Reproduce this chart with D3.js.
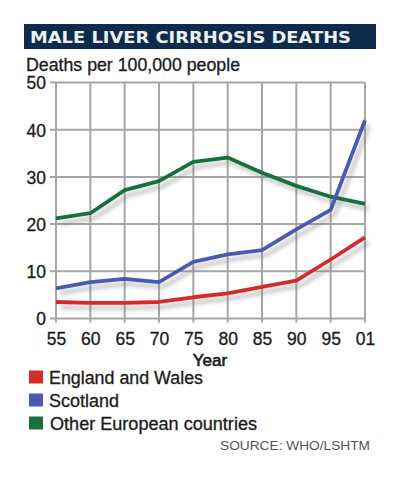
<!DOCTYPE html>
<html><head><meta charset="utf-8">
<script src="https://cdn.jsdelivr.net/npm/d3@7/dist/d3.min.js"></script>
<style>
html,body{margin:0;padding:0;background:#fff;}
svg{display:block;}
</style></head>
<body>
<script>
const years = ["55","60","65","70","75","80","85","90","95","01"];
const yTicks = [0,10,20,30,40,50];
const england = [3.5,3.3,3.3,3.5,4.5,5.3,6.7,8.0,12.5,17.2];
const scotland = [6.4,7.7,8.4,7.7,12.0,13.6,14.5,18.9,23.0,42.0];
const otherEurope = [21.2,22.3,27.2,29.1,33.2,34.1,30.9,28.1,25.8,24.3];
const seriesNames = ["England and Wales","Scotland","Other European countries"];
const seriesColors = ["#d42b2b","#4a5ab4","#17703d"];

const W = 400, H = 477;
const FONT = "Liberation Sans, Arial, sans-serif";
const svg = d3.select("body").append("svg").attr("width", W).attr("height", H);

const defs = svg.append("defs");
const f = defs.append("filter").attr("id","sh").attr("x","-10%").attr("y","-10%").attr("width","130%").attr("height","140%");
f.append("feDropShadow").attr("dx",4).attr("dy",5).attr("stdDeviation",2.2)
 .attr("flood-color","#777").attr("flood-opacity",0.45);

// Title bar
svg.append("rect").attr("x",24).attr("y",24).attr("width",352).attr("height",25).attr("fill","#0e2b4b");
svg.append("text").attr("x",30).attr("y",42.5).text("MALE LIVER CIRRHOSIS DEATHS")
  .attr("font-family","DejaVu Sans").attr("font-weight","bold").attr("font-size",16.6)
  .attr("fill","#e9f1f1").attr("textLength",321).attr("lengthAdjust","spacingAndGlyphs");

function txt(sel){ return sel.attr("font-family",FONT).attr("fill","#1a1a1a").attr("stroke","#1a1a1a").attr("stroke-width",0.3); }

txt(svg.append("text").attr("x",26).attr("y",71).text("Deaths per 100,000 people")
  .attr("font-size",17.5).attr("textLength",214).attr("lengthAdjust","spacingAndGlyphs"));

const x = d3.scalePoint().domain(years).range([56,365]);
const y = d3.scaleLinear().domain([0,50]).range([318.5,82.5]);

const grid = svg.append("g").attr("stroke","#a6a6a6").attr("stroke-width",2);
grid.selectAll("line.v").data(years).join("line").attr("class","v")
  .attr("x1",d=>x(d)).attr("x2",d=>x(d)).attr("y1",y(50)).attr("y2",y(0)+4);
grid.selectAll("line.h").data(yTicks).join("line").attr("class","h")
  .attr("x1",50).attr("x2",x("01")).attr("y1",d=>y(d)).attr("y2",d=>y(d));

// Axis labels
const yAxis = svg.append("g").attr("transform","translate(50,0)")
  .call(d3.axisLeft(y).tickValues(yTicks).tickSize(0).tickPadding(4));
yAxis.select(".domain").remove();
txt(yAxis.selectAll("text")).attr("font-size",17.5).attr("dy","0.36em");

const xAxis = svg.append("g").attr("transform","translate(0,333)")
  .call(d3.axisBottom(x).tickSize(0).tickPadding(0));
xAxis.select(".domain").remove();
txt(xAxis.selectAll("text")).attr("font-size",17.5).attr("dy","0.71em");

txt(svg.append("text").attr("x",210).attr("y",366).attr("text-anchor","middle").text("Year")
  .attr("font-size",17)).attr("stroke-width",0.6);

const line = d3.line().x((d,i)=>x(years[i])).y(d=>y(d));
const data = [england, scotland, otherEurope];
const order = [2,1,0];
const lg = svg.append("g").attr("filter","url(#sh)");
order.forEach(i=>{
  lg.append("path").datum(data[i]).attr("d",line).attr("fill","none")
    .attr("stroke",seriesColors[i]).attr("stroke-width",3.8).attr("stroke-linejoin","round");
});

// Legend
const leg = svg.append("g");
const legW = [154, 70, 207];
seriesNames.forEach((n,i)=>{
  const cy = 377 + i*23;
  leg.append("rect").attr("x",29).attr("y",cy-6.5).attr("width",14).attr("height",13).attr("fill",seriesColors[i]);
  txt(leg.append("text").attr("x",i==2?50:49).attr("y",cy+6.5).text(n)
    .attr("font-size",17.5).attr("textLength",legW[i]).attr("lengthAdjust","spacingAndGlyphs"));
});

svg.append("text").attr("x",370).attr("y",450).attr("text-anchor","end").text("SOURCE: WHO/LSHTM")
  .attr("font-family",FONT).attr("font-size",13).attr("fill","#555")
  .attr("textLength",150).attr("lengthAdjust","spacingAndGlyphs");
</script>
</body></html>
